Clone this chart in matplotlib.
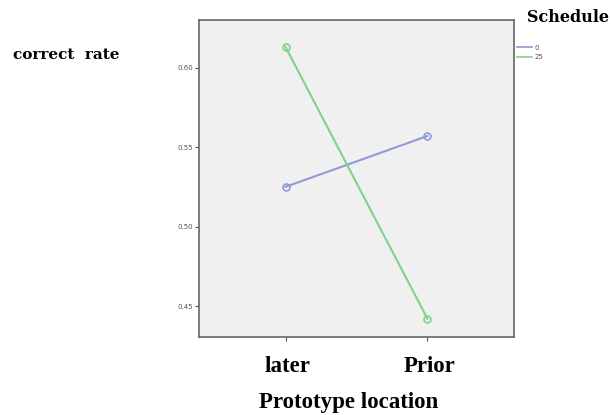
import matplotlib
matplotlib.use('Agg')
import matplotlib.pyplot as plt
from matplotlib.lines import Line2D

# data
categories = ['later', 'Prior']
schedule_labels = ['0', '25']
rate_0 = [0.525, 0.557]
rate_25 = [0.613, 0.442]
yticks = [0.45, 0.50, 0.55, 0.60]

W, H = 611, 415
fig = plt.figure(figsize=(W / 100, H / 100), dpi=100)
fig.patch.set_facecolor('white')

ax = fig.add_axes([199 / W, 1 - 337 / H, 315 / W, 317 / H])
ax.set_facecolor('#f0f0f0')

colors = ['#8f9ad6', '#80d28c']
x = range(len(categories))
for vals, c in zip([rate_0, rate_25], colors):
    ax.plot(x, vals, color=c, linewidth=1.5, marker='o', markersize=5,
            markerfacecolor='none', markeredgecolor=c, markeredgewidth=1.2)

ax.set_xlim(-0.61, 1.61)
ax.set_ylim(0.4305, 0.630)
ax.set_yticks(yticks)
ax.set_yticklabels([f'{v:.2f}' for v in yticks], fontsize=5, color='#555555')
ax.set_xticks(list(x))
ax.set_xticklabels([])
ax.tick_params(axis='both', length=3, width=0.8, color='#555555', pad=1)
for s in ax.spines.values():
    s.set_color('#666666')
    s.set_linewidth(1.2)

serif = ['Liberation Serif', 'DejaVu Serif']
for xi, lab in zip(x, categories):
    ax.text(xi + 0.015, -0.06, lab, transform=ax.get_xaxis_transform(), ha='center', va='top',
            fontsize=16.5, fontweight='bold', family=serif)

fig.text(349 / W, 1 - 402 / H, 'Prototype location', ha='center', va='center',
         fontsize=16.5, fontweight='bold', family=serif)
fig.text(13 / W, 1 - 55 / H, 'correct  rate', ha='left', va='center',
         fontsize=11, fontweight='bold', family=['DejaVu Serif'])
fig.text(609 / W, 1 - 17 / H, 'Schedule', ha='right', va='center',
         fontsize=11.5, fontweight='bold', family=['DejaVu Serif'])

# legend
handles = [Line2D([0], [0], color=c, linewidth=1.2) for c in colors]
leg = fig.legend(handles, schedule_labels, loc='upper left',
                 bbox_to_anchor=(512 / W, 1 - 40 / H), frameon=False,
                 fontsize=5, handlelength=2.2, handletextpad=0.4,
                 labelspacing=0.5, borderpad=0.2)
for t in leg.get_texts():
    t.set_color('#555555')

fig.savefig('out.png', dpi=100)
